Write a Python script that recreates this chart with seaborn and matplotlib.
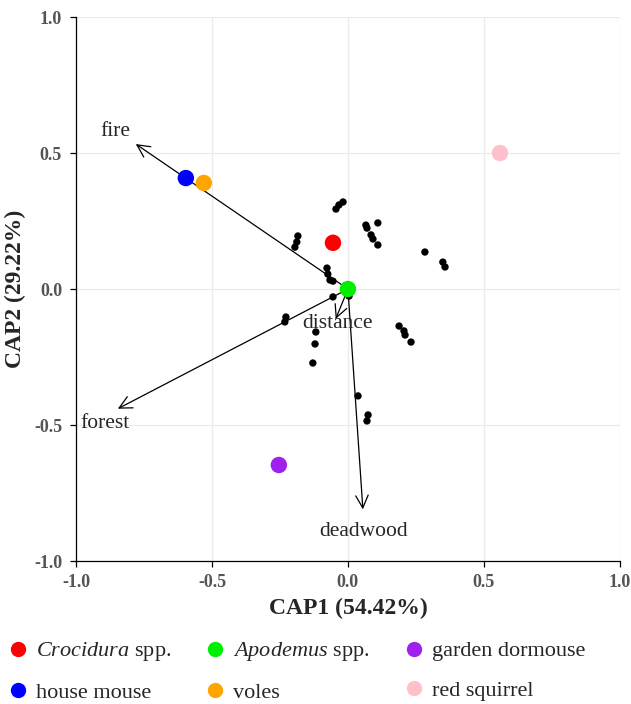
import numpy as np
import pandas as pd
import seaborn as sns
import matplotlib.pyplot as plt
from matplotlib.lines import Line2D

# site scores (black dots)
site_x = [-0.018, -0.033, -0.044, 0.066, 0.070, 0.110, 0.085, 0.092, 0.110,
          0.283, 0.349, 0.357, -0.184, -0.188, -0.195, -0.077, -0.074, -0.066,
          -0.055, -0.055, -0.228, -0.232, -0.118, -0.121, -0.129, 0.188, 0.206,
          0.210, 0.232, 0.037, 0.074, 0.070, 0.004]
site_y = [0.320, 0.309, 0.294, 0.235, 0.224, 0.243, 0.199, 0.184, 0.162,
          0.136, 0.099, 0.081, 0.195, 0.173, 0.154, 0.077, 0.055, 0.033,
          0.029, -0.029, -0.103, -0.121, -0.158, -0.202, -0.272, -0.136, -0.154,
          -0.169, -0.195, -0.393, -0.463, -0.485, -0.026]

# species scores
species = ["Crocidura spp.", "house mouse", "Apodemus spp.", "voles",
           "garden dormouse", "red squirrel"]
species_x = [-0.055, -0.596, 0.0, -0.530, -0.254, 0.559]
species_y = [0.170, 0.408, 0.0, 0.390, -0.647, 0.500]
species_colors = ["#ff0000", "#0000ff", "#00ee00", "#ffa500", "#a020f0", "#ffc0cb"]
legend_labels = [r"$\it{Crocidura}$ spp.", "house mouse", r"$\it{Apodemus}$ spp.",
                 "voles", "garden dormouse", "red squirrel"]

# environmental vectors
env = ["fire", "forest", "deadwood", "distance"]
env_x = [-0.780, -0.846, 0.055, -0.045]
env_y = [0.533, -0.440, -0.810, -0.110]
env_lab_x = [-0.857, -0.893, 0.059, -0.040]
env_lab_y = [0.581, -0.496, -0.893, -0.125]

sns.set_style("whitegrid")
plt.rcParams["font.family"] = ["Liberation Serif", "DejaVu Serif"]
plt.rcParams["mathtext.fontset"] = "custom"
plt.rcParams["mathtext.rm"] = "Liberation Serif"
plt.rcParams["mathtext.it"] = "Liberation Serif:italic"

fig = plt.figure(figsize=(6.31, 7.04), dpi=100)
ax = fig.add_axes([0.1204, 0.2031, 0.862, 0.7727])

sites = pd.DataFrame({"x": site_x, "y": site_y})
sns.scatterplot(data=sites, x="x", y="y", color="black", s=28, edgecolor="none", ax=ax, zorder=3)

for name, ex, ey, lx, ly in zip(env, env_x, env_y, env_lab_x, env_lab_y):
    ax.annotate("", xy=(ex, ey), xytext=(0, 0),
                arrowprops=dict(arrowstyle="->,head_length=0.9,head_width=0.45",
                                color="black", lw=0.9, shrinkA=0, shrinkB=0), zorder=2)
    ax.text(lx, ly, name, fontsize=15.5, ha="center", va="center", zorder=4)

spp = pd.DataFrame({"x": species_x, "y": species_y, "species": species})
sns.scatterplot(data=spp, x="x", y="y", hue="species", palette=dict(zip(species, species_colors)),
                s=140, edgecolor="none", ax=ax, zorder=5, legend=False)

ax.set_xlim(-1.0, 1.0)
ax.set_ylim(-1.0, 1.0)
ticks = [-1.0, -0.5, 0.0, 0.5, 1.0]
ax.set_xticks(ticks)
ax.set_yticks(ticks)
ax.set_xticklabels([f"{t:.1f}" for t in ticks])
ax.set_yticklabels([f"{t:.1f}" for t in ticks])
ax.tick_params(axis="both", length=4, width=0.9, color="black", labelsize=13,
               labelcolor="#555555", bottom=True, left=True)
ax.tick_params(axis="x", pad=5)
ax.tick_params(axis="y", pad=6)
for lab in ax.get_xticklabels() + ax.get_yticklabels():
    lab.set_fontweight("bold")
ax.grid(True, color="#ebebeb", lw=0.9)
for side in ["top", "right"]:
    ax.spines[side].set_visible(False)
for side in ["left", "bottom"]:
    ax.spines[side].set_color("black")
    ax.spines[side].set_linewidth(0.9)
ax.set_xlabel("CAP1 (54.42%)", fontsize=17, fontweight="bold", labelpad=5)
ax.set_ylabel("CAP2 (29.22%)", fontsize=17, fontweight="bold", labelpad=6)

handles = [Line2D([], [], marker="o", ls="none", color=c, markersize=10) for c in species_colors]
fig.legend(handles, legend_labels, loc="center left", bbox_to_anchor=(0.014, 0.046), ncol=3,
           frameon=False, fontsize=16, handlelength=0.8, handletextpad=0.4, columnspacing=1.6,
           labelspacing=0.85, borderpad=0, borderaxespad=0)

fig.savefig("out.png", dpi=100, facecolor="white")
